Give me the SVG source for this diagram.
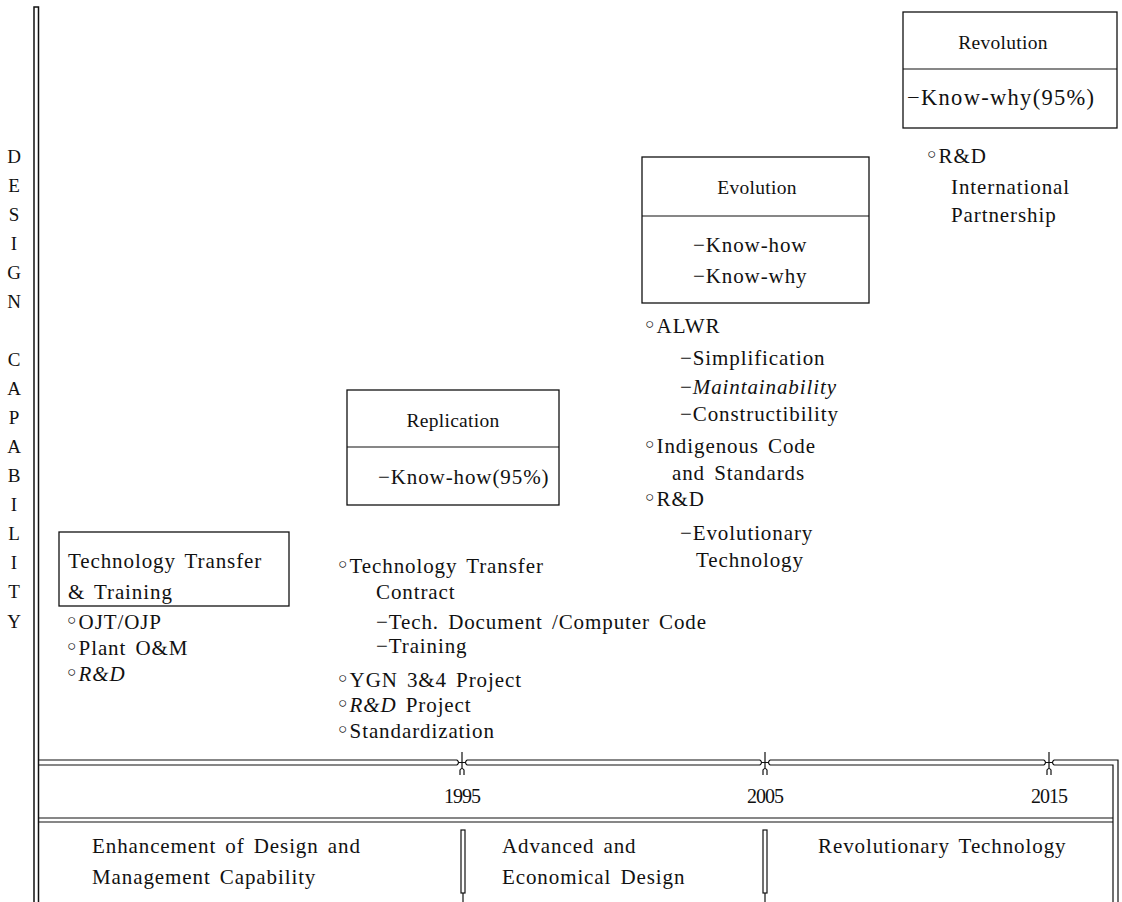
<svg xmlns="http://www.w3.org/2000/svg" width="1122" height="902" viewBox="0 0 1122 902">
<style>
  text { font-family: "Liberation Serif", "Times New Roman", serif; fill: #111; }
  .t { font-size: 21px; letter-spacing: 0.9px; word-spacing: 3px; }
  .h { font-size: 19.5px; letter-spacing: 0.3px; text-anchor: middle; }
  .v { font-size: 19px; text-anchor: middle; }
  .yr { font-size: 20px; text-anchor: middle; letter-spacing: -1px; }
  .it { font-style: italic; }
  .box { fill: none; stroke: #111; stroke-width: 1.3; }
  .ln { fill: none; stroke: #111; stroke-width: 1.2; }
  .bul { font-family: "DejaVu Sans", sans-serif; font-size: 23px; letter-spacing: 0px; }
</style>
<rect width="1122" height="902" fill="#fff"/>

<g id="axis-label">
  <text class="v" x="14" y="163">D</text>
  <text class="v" x="14" y="192">E</text>
  <text class="v" x="14" y="221">S</text>
  <text class="v" x="14" y="250">I</text>
  <text class="v" x="14" y="279">G</text>
  <text class="v" x="14" y="308">N</text>
  <text class="v" x="14" y="366">C</text>
  <text class="v" x="14" y="395">A</text>
  <text class="v" x="14" y="424">P</text>
  <text class="v" x="14" y="453">A</text>
  <text class="v" x="14" y="482">B</text>
  <text class="v" x="14" y="511">I</text>
  <text class="v" x="14" y="540">L</text>
  <text class="v" x="14" y="569">I</text>
  <text class="v" x="14" y="598">T</text>
  <text class="v" x="14" y="628">Y</text>
</g>

<g id="connectors">
  <!-- left vertical double axis -->
  <path class="ln" d="M34,902 V7 H38.5 V902" style="stroke-width:1.5"/>
  <!-- upper timeline double line with ticks -->
  <path class="ln" d="M38,760 H457 M467,760 H760 M770,760 H1044 M1054,760 H1118 V902"/>
  <path class="ln" d="M38,765 H457 M467,765 H760 M770,765 H1044 M1054,765 H1113 V902"/>
  <path class="ln" d="M457,760 Q460,762.5 457,765 M467,760 Q464,762.5 467,765 M760,760 Q763,762.5 760,765 M770,760 Q767,762.5 770,765 M1044,760 Q1047,762.5 1044,765 M1054,760 Q1051,762.5 1054,765"/>
  <!-- tick crosses -->
  <path class="ln" d="M462,752 V769 M458,762.5 H466 M460,775 V770 Q462,767 464,770 V775"/>
  <path class="ln" d="M765,752 V769 M761,762.5 H769 M763,775 V770 Q765,767 767,770 V775"/>
  <path class="ln" d="M1049,752 V769 M1045,762.5 H1053 M1047,775 V770 Q1049,767 1051,770 V775"/>
  <!-- lower double line -->
  <path class="ln" d="M38,818 H1113 M38,822 H1113"/>
  <!-- phase separators -->
  <rect class="ln" x="461" y="830" width="4" height="63"/>
  <path class="ln" d="M463,893 V902"/>
  <rect class="ln" x="763" y="830" width="4" height="63"/>
  <path class="ln" d="M765,893 V902"/>
</g>

<g id="years">
  <text class="yr" x="462" y="803">1995</text>
  <text class="yr" x="765" y="803">2005</text>
  <text class="yr" x="1049" y="803">2015</text>
</g>

<g id="phase-1">
  <text class="t" x="92" y="853">Enhancement of Design and</text>
  <text class="t" x="92" y="884">Management Capability</text>
</g>
<g id="phase-2">
  <text class="t" x="502" y="853">Advanced and</text>
  <text class="t" x="502" y="884">Economical Design</text>
</g>
<g id="phase-3">
  <text class="t" x="818" y="853">Revolutionary Technology</text>
</g>

<g id="node-transfer">
  <rect class="box" x="59" y="532" width="230" height="74"/>
  <text class="t" x="68" y="568">Technology Transfer</text>
  <text class="t" x="68" y="599">&amp; Training</text>
</g>
<g id="list-transfer">
  <text class="t" x="65" y="629"><tspan class="bul">◦</tspan>OJT/OJP</text>
  <text class="t" x="65" y="655"><tspan class="bul">◦</tspan>Plant O&amp;M</text>
  <text class="t" x="65" y="681"><tspan class="bul">◦</tspan><tspan class="it">R&amp;D</tspan></text>
</g>

<g id="node-replication">
  <rect class="box" x="347" y="390" width="212" height="115"/>
  <path class="ln" d="M347,447 H559"/>
  <text class="h" x="453" y="427">Replication</text>
  <text class="t" x="378" y="484">−Know-how(95%)</text>
</g>
<g id="list-replication">
  <text class="t" x="336" y="573"><tspan class="bul">◦</tspan>Technology Transfer</text>
  <text class="t" x="376" y="599">Contract</text>
  <text class="t" x="376" y="629">−Tech. Document /Computer Code</text>
  <text class="t" x="376" y="653">−Training</text>
  <text class="t" x="336" y="687"><tspan class="bul">◦</tspan>YGN 3&amp;4 Project</text>
  <text class="t" x="336" y="712"><tspan class="bul">◦</tspan><tspan class="it">R&amp;D</tspan> Project</text>
  <text class="t" x="336" y="738"><tspan class="bul">◦</tspan>Standardization</text>
</g>

<g id="node-evolution">
  <rect class="box" x="642" y="157" width="227" height="146"/>
  <path class="ln" d="M642,216 H869"/>
  <text class="h" x="757" y="194">Evolution</text>
  <text class="t" x="693" y="252">−Know-how</text>
  <text class="t" x="693" y="283">−Know-why</text>
</g>
<g id="list-evolution">
  <text class="t" x="643" y="333"><tspan class="bul">◦</tspan>ALWR</text>
  <text class="t" x="680" y="365">−Simplification</text>
  <text class="t" x="680" y="394">−<tspan class="it">Maintainability</tspan></text>
  <text class="t" x="680" y="421">−Constructibility</text>
  <text class="t" x="643" y="453"><tspan class="bul">◦</tspan>Indigenous Code</text>
  <text class="t" x="672" y="480">and Standards</text>
  <text class="t" x="643" y="506"><tspan class="bul">◦</tspan>R&amp;D</text>
  <text class="t" x="680" y="540">−Evolutionary</text>
  <text class="t" x="696" y="567">Technology</text>
</g>

<g id="node-revolution">
  <rect class="box" x="903" y="12" width="214" height="116"/>
  <path class="ln" d="M903,69 H1117"/>
  <text class="h" x="1003" y="49">Revolution</text>
  <text class="t" x="907" y="105" style="font-size:22.5px;letter-spacing:1.3px">−Know-why(95%)</text>
</g>
<g id="list-revolution">
  <text class="t" x="925" y="163"><tspan class="bul">◦</tspan>R&amp;D</text>
  <text class="t" x="951" y="194">International</text>
  <text class="t" x="951" y="222">Partnership</text>
</g>
</svg>
